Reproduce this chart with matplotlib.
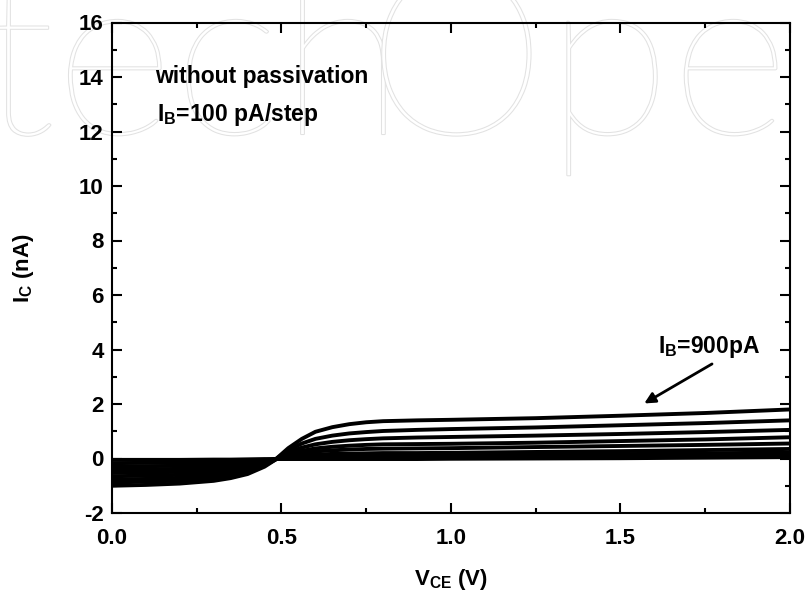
import matplotlib
matplotlib.use("Agg")
import matplotlib.pyplot as plt
import matplotlib.patheffects as pe
from matplotlib.ticker import MultipleLocator

# V_CE sweep (V)
vce = [0.0, 0.1, 0.2, 0.3, 0.35, 0.4, 0.45, 0.48, 0.52, 0.56, 0.6, 0.65,
       0.7, 0.75, 0.8, 0.9, 1.0, 1.25, 1.5, 1.75, 2.0]

# I_C (nA) for each base current step
ic_900 = [-1.00, -0.97, -0.92, -0.82, -0.72, -0.57, -0.30, -0.06, 0.38, 0.72, 0.98, 1.15,
          1.26, 1.33, 1.37, 1.40, 1.42, 1.48, 1.57, 1.67, 1.80]
ic_800 = [-0.88, -0.85, -0.81, -0.72, -0.63, -0.50, -0.26, -0.05, 0.30, 0.55, 0.72, 0.84,
          0.92, 0.97, 1.01, 1.05, 1.08, 1.14, 1.22, 1.30, 1.40]
ic_700 = [-0.77, -0.75, -0.71, -0.63, -0.55, -0.44, -0.23, -0.05, 0.22, 0.40, 0.52, 0.61,
          0.67, 0.71, 0.74, 0.77, 0.79, 0.84, 0.90, 0.97, 1.05]
ic_600 = [-0.65, -0.63, -0.60, -0.53, -0.47, -0.37, -0.20, -0.04, 0.16, 0.28, 0.37, 0.43,
          0.47, 0.50, 0.52, 0.53, 0.54, 0.58, 0.64, 0.70, 0.78]
ic_500 = [-0.53, -0.51, -0.49, -0.43, -0.38, -0.30, -0.16, -0.04, 0.11, 0.20, 0.26, 0.30,
          0.33, 0.35, 0.36, 0.37, 0.38, 0.42, 0.46, 0.50, 0.55]
ic_400 = [-0.41, -0.40, -0.38, -0.34, -0.30, -0.24, -0.13, -0.03, 0.06, 0.11, 0.14, 0.17,
          0.18, 0.19, 0.20, 0.20, 0.21, 0.24, 0.27, 0.31, 0.35]
ic_300 = [-0.29, -0.28, -0.27, -0.24, -0.21, -0.17, -0.10, -0.03, 0.02, 0.05, 0.07, 0.08,
          0.09, 0.10, 0.10, 0.10, 0.11, 0.13, 0.16, 0.19, 0.22]
ic_200 = [-0.17, -0.16, -0.16, -0.14, -0.12, -0.10, -0.06, -0.02, 0.00, 0.01, 0.02, 0.02,
          0.03, 0.03, 0.03, 0.03, 0.04, 0.05, 0.07, 0.09, 0.12]
ic_100 = [-0.05, -0.05, -0.05, -0.04, -0.04, -0.03, -0.02, -0.02, -0.02, -0.02, -0.02, -0.02,
          -0.02, -0.02, -0.02, -0.02, -0.01, 0.00, 0.01, 0.03, 0.05]

curves = [ic_100, ic_200, ic_300, ic_400, ic_500, ic_600, ic_700, ic_800, ic_900]

plt.rcParams['font.family'] = ['Liberation Sans', 'DejaVu Sans']
plt.rcParams['font.weight'] = 'bold'
plt.rcParams['axes.labelweight'] = 'bold'
plt.rcParams['mathtext.fontset'] = 'custom'
plt.rcParams['mathtext.rm'] = 'Liberation Sans:bold'
plt.rcParams['mathtext.it'] = 'Liberation Sans:bold'
plt.rcParams['mathtext.bf'] = 'Liberation Sans:bold'

fig = plt.figure(figsize=(8.11, 6.0), dpi=100)
ax = fig.add_axes([0.1381, 0.145, 0.836, 0.8175])
ax.patch.set_alpha(0)

# faint watermark behind the plot
wm = dict(fontsize=165, family='Lato', weight='light', color='white', zorder=-5,
          va='baseline', path_effects=[pe.withStroke(linewidth=1.5, foreground='#e2e2e2')])
fig.text(-0.025, 1 - 134 / 600, 'tech', **wm)
fig.text(0.452, 1 - 134 / 600, 'Ope', **wm)

for ic in curves:
    ax.plot(vce, ic, color='black', lw=2.8, solid_joinstyle='round')

ax.set_xlim(0, 2.0)
ax.set_ylim(-2, 16)
ax.xaxis.set_major_locator(MultipleLocator(0.5))
ax.xaxis.set_minor_locator(MultipleLocator(0.25))
ax.yaxis.set_major_locator(MultipleLocator(2))
ax.yaxis.set_minor_locator(MultipleLocator(1))
ax.xaxis.set_major_formatter(plt.FuncFormatter(lambda v, p: f'{v:.1f}'))
ax.yaxis.set_major_formatter(plt.FuncFormatter(lambda v, p: f'{v:.0f}'))
ax.tick_params(which='both', direction='in', top=True, right=True, width=1.5,
               labelsize=16)
ax.tick_params(axis='x', pad=10.5)
ax.tick_params(axis='y', pad=6)
ax.tick_params(which='major', length=7)
ax.tick_params(which='minor', length=3.5)
for s in ax.spines.values():
    s.set_linewidth(1.5)

ax.set_xlabel(r'$\mathrm{V_{CE}}$ (V)', fontsize=16, labelpad=13)
ax.set_ylabel(r'$\mathrm{I_C}$ (nA)', fontsize=16, labelpad=31)

ax.text(0.127, 13.78, 'without passivation', fontsize=16.5, va='baseline')
ax.text(0.133, 12.40, r'$\mathrm{I_B}$=100 pA/step', fontsize=16.5, va='baseline')
ax.text(1.611, 3.87, r'$\mathrm{I_B}$=900pA', fontsize=16.5, va='baseline')
ax.annotate('', xy=(1.57, 2.02), xytext=(1.77, 3.47),
            arrowprops=dict(arrowstyle='-|>', color='black', lw=2,
                            mutation_scale=16, shrinkA=0, shrinkB=0))

fig.savefig('out.png', dpi=100)
